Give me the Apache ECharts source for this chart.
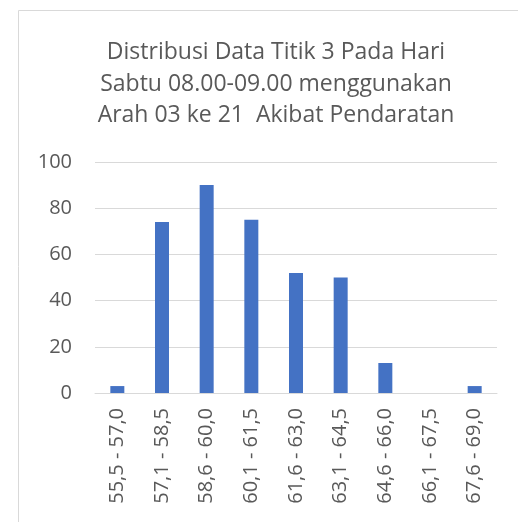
<!DOCTYPE html>
<html>
<head>
<meta charset="utf-8">
<script src="https://cdn.jsdelivr.net/npm/echarts@6/dist/echarts.min.js"></script>
<style>
  html, body { margin: 0; padding: 0; background: #fff; }
  #chart { width: 518px; height: 522px; }
</style>
</head>
<body>
<div id="chart"></div>
<script>
// kelas interval dan frekuensi
const categories = ['55,5 - 57,0', '57,1 - 58,5', '58,6 - 60,0', '60,1 - 61,5', '61,6 - 63,0',
    '63,1 - 64,5', '64,6 - 66,0', '66,1 - 67,5', '67,6 - 69,0'];
const counts = [3, 74, 90, 75, 52, 50, 13, 0, 3];
const titleLines = ['Distribusi Data Titik 3 Pada Hari', 'Sabtu 08.00-09.00 menggunakan', 'Arah 03 ke 21  Akibat Pendaratan'];
const yMax = 100;
const yStep = 20;

const textColor = '#595959';
const gridColor = '#d9d9d9';
const font = '"Open Sans", "Liberation Sans", sans-serif';

const chart = echarts.init(document.getElementById('chart'));

chart.setOption({
    animation: false,
    title: {
        text: titleLines.join('\n'),
        left: 271,
        top: 32,
        textAlign: 'center',
        textStyle: {
            color: textColor,
            fontFamily: font,
            fontSize: 23,
            fontWeight: 'normal',
            lineHeight: 31.5,
        },
    },
    graphic: [{
        type: 'rect',
        shape: { x: 18.5, y: 10.5, width: 1000, height: 512 },
        style: { fill: 'none', stroke: gridColor, lineWidth: 1 },
        silent: true,
    }],
    grid: { left: 95, right: 21, top: 162, bottom: 129 },
    xAxis: {
        type: 'category',
        data: categories,
        axisLine: { lineStyle: { color: gridColor, width: 1 } },
        axisTick: { show: false },
        axisLabel: {
            rotate: 90,
            interval: 0,
            margin: 15,
            color: textColor,
            fontFamily: font,
            fontSize: 20,
        },
    },
    yAxis: {
        type: 'value',
        min: 0,
        max: yMax,
        interval: yStep,
        axisLine: { show: false },
        axisTick: { show: false },
        splitLine: { lineStyle: { color: gridColor, width: 1 } },
        axisLabel: {
            margin: 23,
            color: textColor,
            fontFamily: font,
            fontSize: 20,
        },
    },
    series: [{
        type: 'bar',
        data: counts,
        barWidth: 14,
        itemStyle: { color: '#4472c4' },
    }],
});
</script>
</body>
</html>
